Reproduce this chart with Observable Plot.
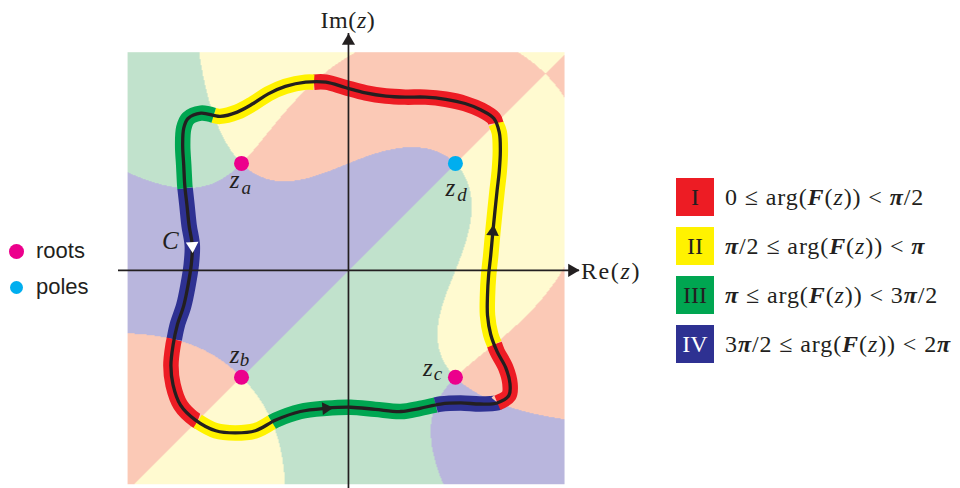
<!DOCTYPE html>
<html>
<head>
<meta charset="utf-8">
<script src="https://cdn.jsdelivr.net/npm/d3@7"></script>
<script src="https://cdn.jsdelivr.net/npm/@observablehq/plot@0.6"></script>
<style>
  html, body { margin: 0; padding: 0; background: #ffffff; }
  #wrap { position: relative; width: 960px; height: 488px; overflow: hidden; }
  #chart { position: absolute; left: 0; top: 0; }
  .serif { font-family: "Liberation Serif", "Times New Roman", serif; color: #231f20; }
  .axislabel { position: absolute; font-size: 24px; white-space: nowrap; line-height: 1; transform: translate(0, -50%); }
  #leftLegend { position: absolute; left: 0; top: 0; font-family: "Liberation Sans", Arial, sans-serif; font-size: 22px; color: #231f20; }
  .lrow { position: absolute; left: 9px; display: flex; align-items: center; white-space: nowrap; height: 26px; transform: translate(0, -50%); }
  .ldot { border-radius: 50%; display: inline-block; }
  #rightLegend { position: absolute; left: 676px; top: 178px; }
  .qrow { position: absolute; left: 0; display: flex; align-items: center; height: 38px; white-space: nowrap; }
  .qbox { width: 38px; height: 38px; display: flex; align-items: center; justify-content: center; font-size: 24px; line-height: 1; }
  .qtext { margin-left: 11px; font-size: 24px; line-height: 1; letter-spacing: 0.9px; }
</style>
</head>
<body>
<div id="wrap">
  <div id="chart"></div>
  <div id="leftLegend"></div>
  <div id="rightLegend" class="serif"></div>
</div>
<script>
// ---------------- data ----------------
const roots = [
  {name: "a", x: -1.0, y: 1.0},
  {name: "b", x: -1.0, y: -1.0},
  {name: "c", x: 1.0, y: -1.0}
];
const poles = [
  {name: "d", x: 1.0, y: 1.0}
];
// contour C, counter-clockwise (complex-plane units)
const contour = [
  [-1.38, 1.47], [-1.50, 1.42], [-1.54, 1.33], [-1.55, 1.17], [-1.54, 0.98],
  [-1.53, 0.79], [-1.51, 0.61], [-1.49, 0.42], [-1.46, 0.23], [-1.47, 0.05],
  [-1.50, -0.14], [-1.54, -0.33], [-1.60, -0.51], [-1.64, -0.70], [-1.66, -0.89],
  [-1.64, -1.07], [-1.57, -1.26], [-1.43, -1.40], [-1.24, -1.50], [-1.06, -1.52],
  [-0.87, -1.50], [-0.68, -1.40], [-0.45, -1.32], [-0.21, -1.29], [0.02, -1.28],
  [0.25, -1.30], [0.49, -1.32], [0.67, -1.29], [0.86, -1.25], [1.05, -1.24],
  [1.23, -1.25], [1.39, -1.24], [1.50, -1.17], [1.51, -1.06], [1.47, -0.91],
  [1.39, -0.76], [1.33, -0.60], [1.30, -0.42], [1.30, -0.23], [1.31, -0.05],
  [1.33, 0.14], [1.35, 0.36], [1.37, 0.56], [1.39, 0.75], [1.41, 0.93],
  [1.42, 1.12], [1.41, 1.29], [1.36, 1.42], [1.24, 1.50], [1.09, 1.56],
  [0.91, 1.60], [0.72, 1.62], [0.53, 1.62], [0.35, 1.63], [0.16, 1.66],
  [-0.03, 1.71], [-0.21, 1.76], [-0.40, 1.76], [-0.59, 1.72], [-0.75, 1.65],
  [-0.89, 1.56], [-1.04, 1.48], [-1.20, 1.44]
];
const arrowAt = [8, 23, 41];
const arrowFill = ["#ffffff", "#231f20", "#231f20"];

const quadrantNames = ["I", "II", "III", "IV"];
const lowerBounds = ["0", "π/2", "π", "3π/2"];
const upperBounds = ["π/2", "π", "3π/2", "2π"];
const bandColors = ["#ed1c24", "#fff200", "#00a651", "#2e3192"];
const fieldColors = ["#fbc9b6", "#fffad0", "#c1e2cc", "#b9b6dd"];
const numeralColors = ["#231f20", "#231f20", "#231f20", "#ffffff"];
const legendItems = ["roots", "poles"];
const legendColors = ["#ec008c", "#00aeef"];

const xAxisExtent = [-2.15, 2.16];
const yAxisExtent = [-2.04, 2.215];
const squareX = [-2.065, 2.02];
const squareY = [-2.0, 2.04];

// ---------------- argument of F(z) ----------------
function argF(x, y) {
  let a = 0;
  for (const r of roots) a += Math.atan2(y - r.y, x - r.x);
  for (const p of poles) a -= Math.atan2(y - p.y, x - p.x);
  const t = 2 * Math.PI;
  return ((a % t) + t) % t;
}
const quadrantOf = (x, y) => Math.min(3, Math.floor(argF(x, y) / (Math.PI / 2)));

// ---------------- contour band split into colour runs ----------------
const P = contour.map(([x, y]) => ({x, y}));
const n = P.length;
const seq = [];
for (let i = 0; i < n; i++) {
  const a = P[i], b = P[(i + 1) % n];
  seq.push({x: a.x, y: a.y, boundary: false});
  const qa = quadrantOf(a.x, a.y), qb = quadrantOf(b.x, b.y);
  if (qa !== qb) {
    let lo = 0, hi = 1;
    for (let k = 0; k < 30; k++) {
      const m = (lo + hi) / 2;
      if (quadrantOf(a.x + (b.x - a.x) * m, a.y + (b.y - a.y) * m) === qa) lo = m; else hi = m;
    }
    const t = (lo + hi) / 2;
    seq.push({x: a.x + (b.x - a.x) * t, y: a.y + (b.y - a.y) * t, boundary: true});
  }
}
const firstB = seq.findIndex(d => d.boundary);
const rot = firstB < 0 ? seq : seq.slice(firstB).concat(seq.slice(0, firstB));
const bandRows = [];
let run = 0, current = [rot[0]];
function flush(pts) {
  if (pts.length < 2) return;
  const mx = (pts[0].x + pts[1].x) / 2, my = (pts[0].y + pts[1].y) / 2;
  const color = bandColors[quadrantOf(mx, my)];
  for (const p of pts) bandRows.push({x: p.x, y: p.y, run, color});
  run++;
}
for (let i = 1; i <= rot.length; i++) {
  const p = rot[i % rot.length];
  current.push(p);
  if (p.boundary || i === rot.length) { flush(current); current = [p]; }
}

const arrows = arrowAt.map((i, k) => {
  const prev = P[(i - 1 + n) % n], next = P[(i + 1) % n];
  return {x: P[i].x, y: P[i].y, angle: Math.atan2(next.x - prev.x, next.y - prev.y) * 180 / Math.PI, fill: arrowFill[k]};
});

// ---------------- labels around the zeros/poles ----------------
const pointLabels = [...roots, ...poles];
const labelPlacement = {
  a: {zdx: -6.8, zdy: 17, sdx: 4.7, sdy: 24},
  b: {zdx: -7, zdy: -22.5, sdx: 3, sdy: -17.5},
  c: {zdx: -27.5, zdy: -9.5, sdx: -17.5, sdy: -3.5},
  d: {zdx: -5, zdy: 24.5, sdx: 6.5, sdy: 31}
};
const labelMarks = [];
for (const p of pointLabels) {
  const L = labelPlacement[p.name];
  labelMarks.push(Plot.text([p], {x: "x", y: "y", text: () => "z", dx: L.zdx, dy: L.zdy,
    fontFamily: "Liberation Serif", fontStyle: "italic", fontSize: 25, fill: "#231f20"}));
  labelMarks.push(Plot.text([p], {x: "x", y: "y", text: "name", dx: L.sdx, dy: L.sdy,
    fontFamily: "Liberation Serif", fontStyle: "italic", fontSize: 19, fill: "#231f20"}));
}

const axisColor = "#231f20";
const chart = Plot.plot({
  width: 660,
  height: 488,
  marginLeft: 118,
  marginRight: 81,
  marginTop: 33,
  marginBottom: 0,
  x: {domain: xAxisExtent, axis: null},
  y: {domain: yAxisExtent, axis: null},
  color: {type: "identity"},
  style: {background: "transparent", overflow: "visible"},
  marks: [
    Plot.raster({
      x1: squareX[0], x2: squareX[1], y1: squareY[0], y2: squareY[1],
      fill: (x, y) => fieldColors[quadrantOf(x, y)],
      pixelSize: 1
    }),
    Plot.line(bandRows, {x: "x", y: "y", z: "run", stroke: "color", strokeWidth: 15.5,
      curve: "catmull-rom", strokeLinecap: "butt", strokeLinejoin: "round"}),
    Plot.ruleY([0], {x1: xAxisExtent[0], x2: xAxisExtent[1], stroke: axisColor, strokeWidth: 1.7}),
    Plot.ruleX([0], {y1: yAxisExtent[0], y2: yAxisExtent[1], stroke: axisColor, strokeWidth: 1.7}),
    Plot.dot([{x: xAxisExtent[1], y: 0}], {x: "x", y: "y", symbol: "triangle", r: 4.9, rotate: 90, dx: -7.5, fill: axisColor, stroke: null}),
    Plot.dot([{x: 0, y: yAxisExtent[1]}], {x: "x", y: "y", symbol: "triangle", r: 4.9, rotate: 0, dy: 7.5, fill: axisColor, stroke: null}),
    Plot.line(P, {x: "x", y: "y", curve: "catmull-rom-closed", stroke: "#231f20", strokeWidth: 3.3}),
    Plot.dot(arrows, {x: "x", y: "y", symbol: "triangle", r: 4.7, rotate: "angle", fill: "fill", stroke: null}),
    Plot.text([arrows[0]], {x: "x", y: "y", text: () => "C", dx: -22, dy: -5,
      fontFamily: "Liberation Serif", fontStyle: "italic", fontSize: 25, fill: "#231f20"}),
    Plot.dot(roots, {x: "x", y: "y", r: 7.5, fill: legendColors[0], stroke: null}),
    Plot.dot(poles, {x: "x", y: "y", r: 7.5, fill: legendColors[1], stroke: null}),
    ...labelMarks
  ]
});
document.getElementById("chart").appendChild(chart);

// axis labels positioned with the chart's own scales
const sx = chart.scale("x"), sy = chart.scale("y");
const wrap = document.getElementById("wrap");
const re = document.createElement("div");
re.className = "axislabel serif";
re.innerHTML = "Re(<i>z</i>)";
re.style.left = (sx.apply(xAxisExtent[1]) + 2) + "px";
re.style.top = (sy.apply(0) + 1) + "px";
re.style.letterSpacing = "1.6px";
wrap.appendChild(re);
const im = document.createElement("div");
im.className = "axislabel serif";
im.innerHTML = "Im(<i>z</i>)";
im.style.left = sx.apply(0) + "px";
im.style.top = (sy.apply(yAxisExtent[1]) - 13) + "px";
im.style.transform = "translate(-50%, -50%)";
im.style.letterSpacing = "0.6px";
wrap.appendChild(im);

// left legend (roots / poles)
const ll = document.getElementById("leftLegend");
legendItems.forEach((name, i) => {
  const row = document.createElement("div");
  row.className = "lrow";
  row.style.top = (251 + i * 36) + "px";
  const size = i === 0 ? 15 : 13;
  row.innerHTML = `<span class="ldot" style="width:${size}px;height:${size}px;background:${legendColors[i]};margin-left:${i === 0 ? 0 : 1}px;margin-right:${i === 0 ? 12 : 13}px"></span><span>${name}</span>`;
  ll.appendChild(row);
});

// right legend (quadrants)
const fmt = s => s.replace(/π/g, "<b><i>π</i></b>");
const rl = document.getElementById("rightLegend");
quadrantNames.forEach((q, i) => {
  const row = document.createElement("div");
  row.className = "qrow";
  row.style.top = (i * 49) + "px";
  row.innerHTML = `<div class="qbox" style="background:${bandColors[i]};color:${numeralColors[i]}">${q}</div>` +
    `<div class="qtext">${fmt(lowerBounds[i])} ≤ arg(<b><i>F</i></b>(<i>z</i>)) &lt; ${fmt(upperBounds[i])}</div>`;
  rl.appendChild(row);
});
</script>
</body>
</html>
